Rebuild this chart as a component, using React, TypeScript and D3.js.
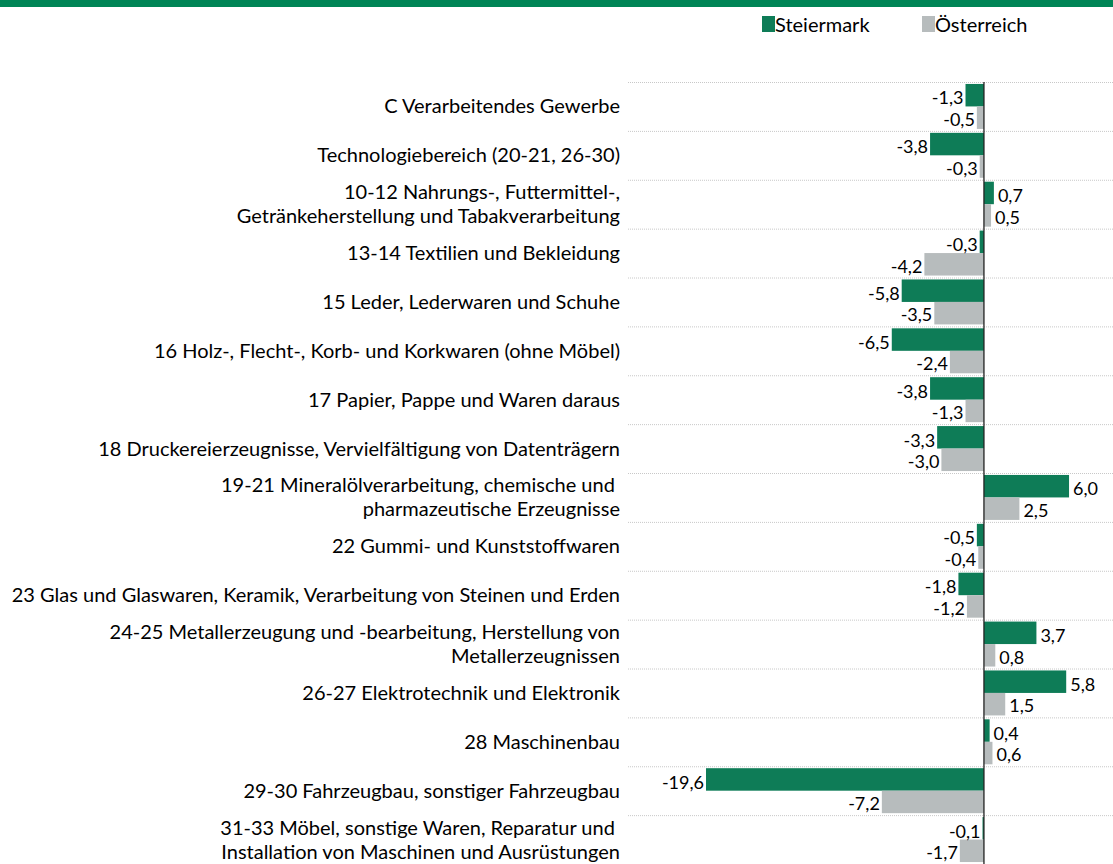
import React from "react";
import * as d3 from "d3";

const categories = [
  ["C Verarbeitendes Gewerbe"],
  ["Technologiebereich (20-21, 26-30)"],
  ["10-12 Nahrungs-, Futtermittel-,", "Getränkeherstellung und Tabakverarbeitung"],
  ["13-14 Textilien und Bekleidung"],
  ["15 Leder, Lederwaren und Schuhe"],
  ["16 Holz-, Flecht-, Korb- und Korkwaren (ohne Möbel)"],
  ["17 Papier, Pappe und Waren daraus"],
  ["18 Druckereierzeugnisse, Vervielfältigung von Datenträgern"],
  ["19-21 Mineralölverarbeitung, chemische und ", "pharmazeutische Erzeugnisse"],
  ["22 Gummi- und Kunststoffwaren"],
  ["23 Glas und Glaswaren, Keramik, Verarbeitung von Steinen und Erden"],
  ["24-25 Metallerzeugung und -bearbeitung, Herstellung von", "Metallerzeugnissen"],
  ["26-27 Elektrotechnik und Elektronik"],
  ["28 Maschinenbau"],
  ["29-30 Fahrzeugbau, sonstiger Fahrzeugbau"],
  ["31-33 Möbel, sonstige Waren, Reparatur und ", "Installation von Maschinen und Ausrüstungen"],
];

const steiermark = [-1.3, -3.8, 0.7, -0.3, -5.8, -6.5, -3.8, -3.3, 6.0, -0.5, -1.8, 3.7, 5.8, 0.4, -19.6, -0.1];
const oesterreich = [-0.5, -0.3, 0.5, -4.2, -3.5, -2.4, -1.3, -3.0, 2.5, -0.4, -1.2, 0.8, 1.5, 0.6, -7.2, -1.7];

const seriesNames = ["Steiermark", "Österreich"];
const colors = ["#0E7C57", "#B7BCBD"];

const font = "Lato, 'Open Sans', sans-serif";
const fmt = (v: number) => v.toFixed(1).replace(".", ",");

export default function App() {
  const width = 1113;
  const height = 864;
  const top = 82;
  const plotLeft = 628;

  const keys = categories.map((_, i) => String(i));
  const y = d3.scaleBand().domain(keys).range([top, height]).paddingInner(0.08).paddingOuter(0.04);
  const x = d3.scaleLinear().domain([-25.1, 9.1]).range([plotLeft, width]);
  const step = y.step();
  const bh = y.bandwidth() / 2;
  const x0 = x(0);

  const series = [steiermark, oesterreich];

  return (
    <svg
      width={width}
      height={height}
      style={{ position: "absolute", left: 0, top: 0, background: "#fff" }}
      fontFamily={font}
    >
      <rect x={0} y={0} width={width} height={7} fill="#008556" />

      {/* legend */}
      {seriesNames.map((name, i) => {
        const lx = [762, 922][i];
        return (
          <g key={name}>
            <rect x={lx} y={16} width={13} height={16} fill={colors[i]} />
            <text x={lx + 13} y={25} dy="0.35em" fontSize={20} fill="#000">
              {name}
            </text>
          </g>
        );
      })}

      {/* gridlines */}
      {d3.range(categories.length + 1).map((i) => (
        <line
          key={i}
          x1={plotLeft}
          x2={width}
          y1={top + i * step + 0.5}
          y2={top + i * step + 0.5}
          stroke="#C8C8C8"
          strokeDasharray="1,1"
        />
      ))}

      {/* bars */}
      {series.map((vals, si) =>
        vals.map((v, i) => {
          const by = (y(String(i)) as number) + si * bh;
          return (
            <rect
              key={`${si}-${i}`}
              x={Math.min(x(v), x0)}
              y={by}
              width={Math.abs(x(v) - x0)}
              height={bh}
              fill={colors[si]}
            />
          );
        })
      )}

      {/* value labels */}
      {series.map((vals, si) =>
        vals.map((v, i) => {
          const by = (y(String(i)) as number) + si * bh + bh / 2 + (si === 0 ? 3 : 2);
          return (
            <text
              key={`l${si}-${i}`}
              x={v < 0 ? x(v) - 2 : x(v) + 4}
              y={by}
              dy="0.35em"
              textAnchor={v < 0 ? "end" : "start"}
              fontSize={18}
              fill="#000"
            >
              {fmt(v)}
            </text>
          );
        })
      )}

      {/* zero axis */}
      <line x1={x0} x2={x0} y1={top} y2={height} stroke="#222" strokeWidth={1.3} />

      {/* category labels */}
      {categories.map((lines, i) => {
        const cy = top + i * step + step / 2;
        return (
          <text
            key={`c${i}`}
            x={620}
            y={cy}
            textAnchor="end"
            fontSize={20}
            fill="#000"
            style={{ whiteSpace: "pre" }}
          >
            {lines.map((ln, j) => (
              <tspan key={j} x={620} y={cy + (j - (lines.length - 1) / 2) * 24} dy="0.35em">
                {ln}
              </tspan>
            ))}
          </text>
        );
      })}
    </svg>
  );
}
